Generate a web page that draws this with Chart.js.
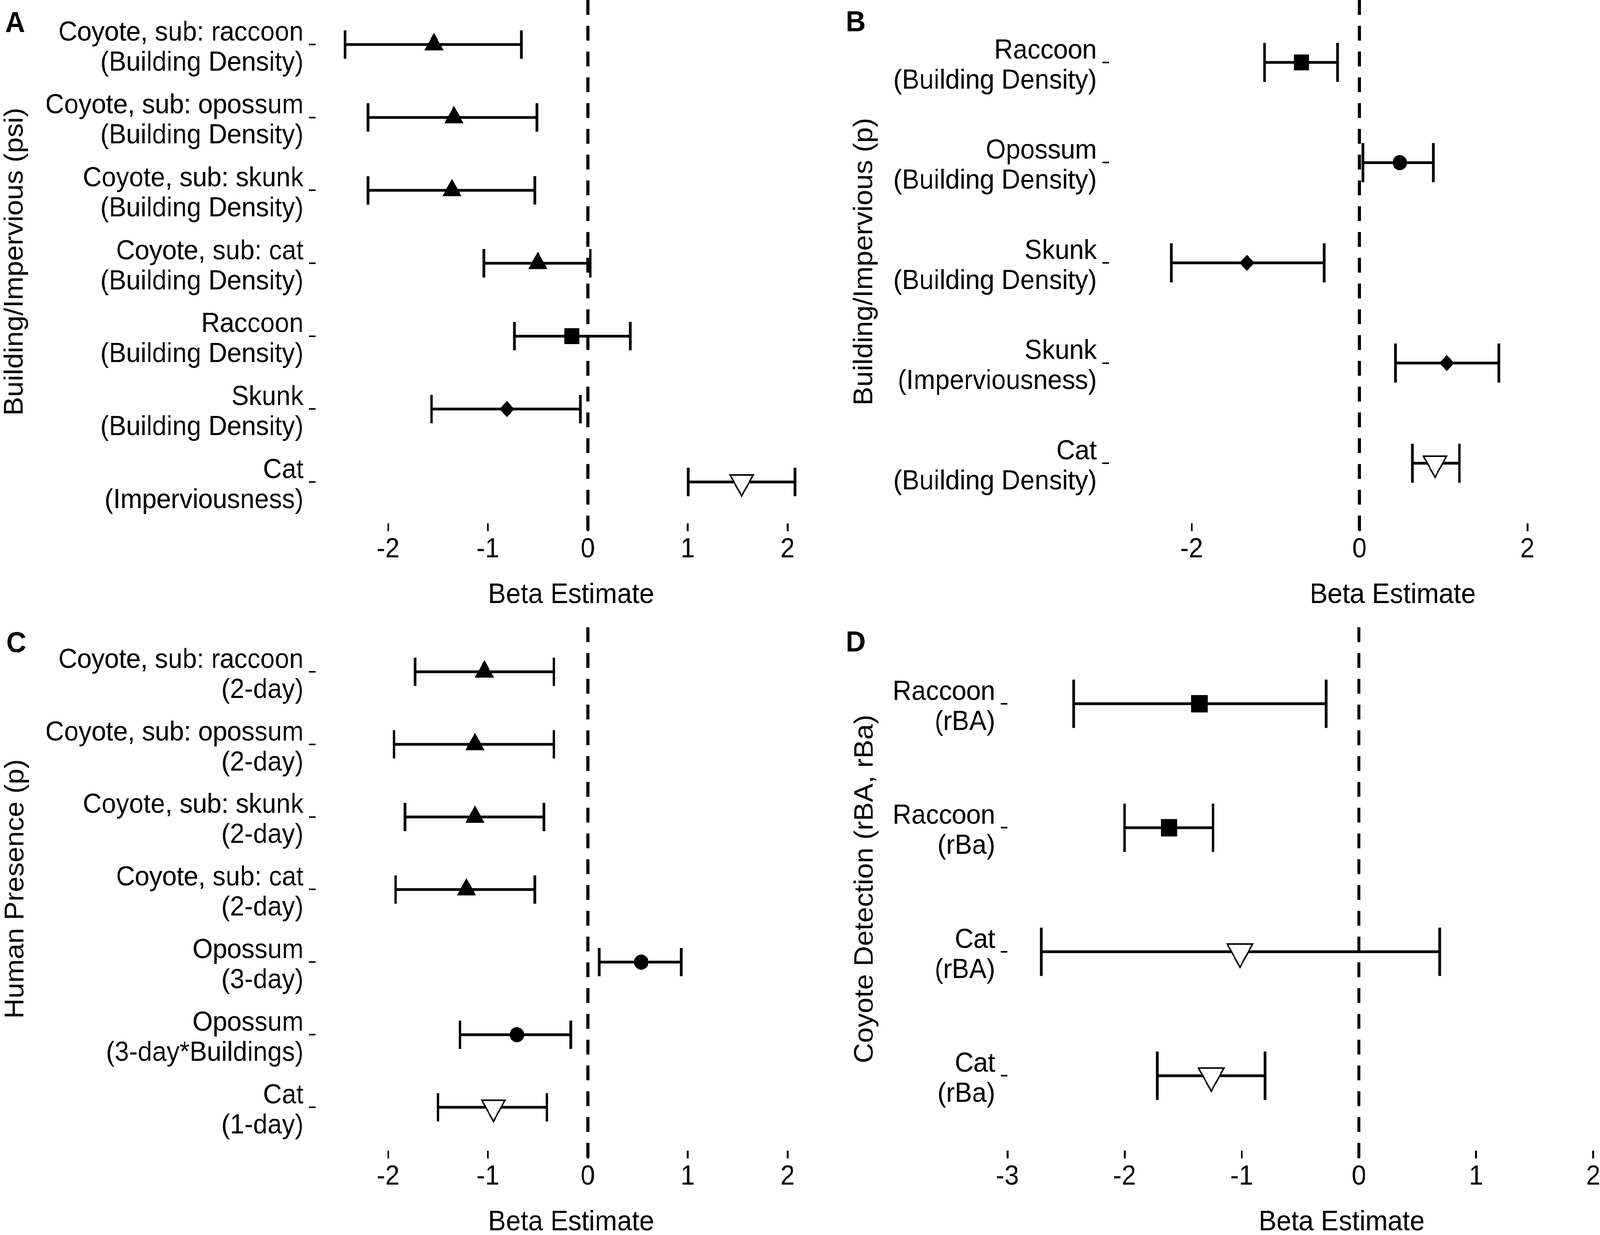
<!DOCTYPE html>
<html>
<head>
<meta charset="utf-8">
<script src="https://cdn.jsdelivr.net/npm/chart.js@4.4.1/dist/chart.umd.min.js"></script>
<style>
html,body{margin:0;padding:0;background:#fff;overflow:hidden;width:100vw;height:100vh;}
#wrap{position:absolute;left:0;top:0;width:4317px;height:3162px;overflow:hidden;background:#fff;transform-origin:0 0;}
canvas{position:absolute;display:block;}
</style>
</head>
<body>
<div id="wrap">
<canvas id="cA"></canvas>
<canvas id="cB"></canvas>
<canvas id="cC"></canvas>
<canvas id="cD"></canvas>
</div>
<script>
const FONT = "'Liberation Sans', Arial, Helvetica, sans-serif";

// ---------- Panel A : Building/Impervious (psi) ----------
const labelsA = [
  ["Coyote, sub: raccoon", "(Building Density)"],
  ["Coyote, sub: opossum", "(Building Density)"],
  ["Coyote, sub: skunk", "(Building Density)"],
  ["Coyote, sub: cat", "(Building Density)"],
  ["Raccoon", "(Building Density)"],
  ["Skunk", "(Building Density)"],
  ["Cat", "(Imperviousness)"]
];
const speciesA = ["coyote", "coyote", "coyote", "coyote", "raccoon", "skunk", "cat"];
const estA  = [-1.54, -1.34, -1.36, -0.50, -0.16, -0.81, 1.54];
const lowA  = [-2.43, -2.20, -2.20, -1.04, -0.735, -1.565, 1.005];
const highA = [-0.665, -0.51, -0.53, 0.025, 0.425, -0.075, 2.075];
const xTicksA = [-2, -1, 0, 1, 2];

// ---------- Panel B : Building/Impervious (p) ----------
const labelsB = [
  ["Raccoon", "(Building Density)"],
  ["Opossum", "(Building Density)"],
  ["Skunk", "(Building Density)"],
  ["Skunk", "(Imperviousness)"],
  ["Cat", "(Building Density)"]
];
const speciesB = ["raccoon", "opossum", "skunk", "skunk", "cat"];
const estB  = [-0.69, 0.48, -1.34, 1.04, 0.90];
const lowB  = [-1.13, 0.04, -2.24, 0.43, 0.63];
const highB = [-0.26, 0.88, -0.42, 1.66, 1.19];
const xTicksB = [-2, 0, 2];

// ---------- Panel C : Human Presence (p) ----------
const labelsC = [
  ["Coyote, sub: raccoon", "(2-day)"],
  ["Coyote, sub: opossum", "(2-day)"],
  ["Coyote, sub: skunk", "(2-day)"],
  ["Coyote, sub: cat", "(2-day)"],
  ["Opossum", "(3-day)"],
  ["Opossum", "(3-day*Buildings)"],
  ["Cat", "(1-day)"]
];
const speciesC = ["coyote", "coyote", "coyote", "coyote", "opossum", "opossum", "cat"];
const estC  = [-1.035, -1.13, -1.13, -1.215, 0.535, -0.71, -0.945];
const lowC  = [-1.73, -1.94, -1.83, -1.925, 0.115, -1.28, -1.50];
const highC = [-0.34, -0.34, -0.44, -0.53, 0.935, -0.17, -0.41];
const xTicksC = [-2, -1, 0, 1, 2];

// ---------- Panel D : Coyote Detection (rBA, rBa) ----------
const labelsD = [
  ["Raccoon", "(rBA)"],
  ["Raccoon", "(rBa)"],
  ["Cat", "(rBA)"],
  ["Cat", "(rBa)"]
];
const speciesD = ["raccoon", "raccoon", "cat", "cat"];
const estD  = [-1.36, -1.62, -1.015, -1.26];
const lowD  = [-2.435, -2.0, -2.71, -1.72];
const highD = [-0.28, -1.245, 0.69, -0.80];
const xTicksD = [-3, -2, -1, 0, 1, 2];

// marker style per species
const MARK = {
  coyote:  {style: "triangle", r: 29,   rot: 0,   fill: "#000", bw: 1},
  raccoon: {style: "rect",     r: 28,   rot: 0,   fill: "#000", bw: 1},
  skunk:   {style: "rectRot",  r: 20,   rot: 0,   fill: "#000", bw: 1},
  opossum: {style: "circle",   r: 19,   rot: 0,   fill: "#000", bw: 1},
  cat:     {style: "triangle", r: 36,   rot: 180, fill: "#fff", bw: 4}
};

// fit the 4317x3162 layout into the actual viewport
const wrap = document.getElementById("wrap");
const sx = (window.innerWidth || 4317) / 4317;
const sy = (window.innerHeight || 3162) / 3162;
wrap.style.transform = "scale(" + sx + "," + sy + ")";

const zeroLine = {
  id: "zeroLine",
  beforeDatasetsDraw(chart) {
    const {ctx, chartArea: a, scales: {x}} = chart;
    const px = x.getPixelForValue(0);
    ctx.save();
    ctx.strokeStyle = "#000";
    ctx.lineWidth = 8;
    ctx.setLineDash([38, 28]);
    ctx.beginPath();
    ctx.moveTo(px, a.top);
    ctx.lineTo(px, a.bottom + 20);
    ctx.stroke();
    ctx.restore();
  }
};

const forestBars = {
  id: "forestBars",
  beforeDatasetsDraw(chart, args, opts) {
    const {ctx, scales: {x, y}} = chart;
    ctx.save();
    ctx.strokeStyle = "#000";
    ctx.lineWidth = 7;
    ctx.lineCap = "butt";
    ctx.setLineDash([]);
    for (let i = 0; i < opts.low.length; i++) {
      const row = i + 1;
      const py = y.getPixelForValue(row);
      const t = y.getPixelForValue(row - opts.cap);
      const b = y.getPixelForValue(row + opts.cap);
      const x1 = x.getPixelForValue(opts.low[i]);
      const x2 = x.getPixelForValue(opts.high[i]);
      ctx.beginPath();
      ctx.moveTo(x1, py); ctx.lineTo(x2, py);
      ctx.moveTo(x1, t); ctx.lineTo(x1, b);
      ctx.moveTo(x2, t); ctx.lineTo(x2, b);
      ctx.stroke();
    }
    ctx.restore();
  }
};

const panelLetter = {
  id: "panelLetter",
  afterDraw(chart, args, opts) {
    const ctx = chart.ctx;
    ctx.save();
    ctx.fillStyle = "#000";
    ctx.font = "bold 74px " + FONT;
    ctx.textBaseline = "alphabetic";
    ctx.textAlign = "left";
    ctx.fillText(opts.text, opts.x, opts.y);
    ctx.restore();
  }
};

function makePanel(p) {
  const cv = document.getElementById(p.id);
  cv.width = p.width; cv.height = p.height;
  cv.style.width = p.width + "px"; cv.style.height = p.height + "px";
  cv.style.left = p.left + "px"; cv.style.top = p.top + "px";
  const sc = p.markScale || 1;
  const sp = p.species;
  return new Chart(cv, {
    type: "scatter",
    data: {
      datasets: [{
        data: p.est.map((v, i) => ({x: v, y: i + 1})),
        pointStyle: sp.map(s => MARK[s].style),
        pointRadius: sp.map(s => MARK[s].r * sc),
        pointHoverRadius: sp.map(s => MARK[s].r * sc),
        pointRotation: sp.map(s => MARK[s].rot),
        pointBackgroundColor: sp.map(s => MARK[s].fill),
        pointBorderColor: "#000",
        pointBorderWidth: sp.map(s => MARK[s].bw),
        clip: false
      }]
    },
    options: {
      responsive: false,
      animation: false,
      devicePixelRatio: 1,
      events: [],
      layout: {autoPadding: false, padding: {top: p.padTop, left: 0, right: 0, bottom: 0}},
      plugins: {
        legend: {display: false},
        tooltip: {enabled: false},
        forestBars: {low: p.low, high: p.high, cap: 0.195},
        panelLetter: {text: p.letter, x: p.letterX, y: p.letterY}
      },
      scales: {
        x: {
          type: "linear", position: "bottom", min: p.xMin, max: p.xMax,
          afterBuildTicks: s => { s.ticks = p.xTicks.map(v => ({value: v})); },
          afterFit: s => { s.height = 227; s.paddingLeft = 0; s.paddingRight = 0; },
          border: {display: false},
          grid: {display: true, drawOnChartArea: false, drawTicks: true, tickLength: 20, lineWidth: 5, color: "#000"},
          ticks: {color: "#000", font: {family: FONT, size: 70}, padding: 6, autoSkip: false, maxRotation: 0,
                  callback: v => String(v)},
          title: {display: true, text: "Beta Estimate", color: "#000",
                  font: {family: FONT, size: 72, lineHeight: 1.2}, padding: {top: 0, bottom: 0}}
        },
        y: {
          type: "linear", position: "left", min: p.yMin, max: p.yMax, reverse: true,
          afterBuildTicks: s => { s.ticks = p.labels.map((_, i) => ({value: i + 1})); },
          afterFit: s => { s.width = p.yWidth; s.paddingTop = 0; s.paddingBottom = 0; },
          border: {display: false},
          grid: {display: true, drawOnChartArea: false, drawTicks: true, tickLength: 18, lineWidth: 4, color: "#000"},
          ticks: {color: "#000", font: {family: FONT, size: 70, lineHeight: 1.1}, padding: 15, labelOffset: 9,
                  autoSkip: false, callback: v => p.labels[Math.round(v) - 1]},
          title: {display: true, text: p.yTitle, color: "#000",
                  font: {family: FONT, size: 72, lineHeight: 1}, padding: {top: p.yTitlePad, bottom: 0}}
        }
      }
    },
    plugins: [zeroLine, forestBars, panelLetter]
  });
}

makePanel({id: "cA", left: 0, top: 0, width: 2230, height: 1567, padTop: 0, yWidth: 852,
  xMin: -2.7236, xMax: 2.3896, yMin: 0.389, yMax: 7.568,
  labels: labelsA, species: speciesA, est: estA, low: lowA, high: highA, xTicks: xTicksA,
  yTitle: "Building/Impervious (psi)", yTitlePad: 5, letter: "A", letterX: 14, letterY: 82});

makePanel({id: "cB", left: 2262, top: 0, width: 2262, height: 1567, padTop: 0, yWidth: 730,
  xMin: -2.9846, xMax: 3.779, yMin: 0.377, yMax: 5.6,
  labels: labelsB, species: speciesB, est: estB, low: lowB, high: highB, xTicks: xTicksB,
  yTitle: "Building/Impervious (p)", yTitlePad: 35, letter: "B", letterX: 20, letterY: 80});

makePanel({id: "cC", left: 0, top: 1590, width: 2230, height: 1583, padTop: 16, yWidth: 852,
  xMin: -2.7236, xMax: 2.3896, yMin: 0.387, yMax: 7.597,
  labels: labelsC, species: speciesC, est: estC, low: lowC, high: highC, xTicks: xTicksC,
  yTitle: "Human Presence (p)", yTitlePad: 7, letter: "C", letterX: 17, letterY: 80});

makePanel({id: "cD", left: 2262, top: 1590, width: 2260, height: 1583, padTop: 16, yWidth: 456,
  xMin: -3.0, xMax: 2.706, yMin: 0.383, yMax: 4.604, markScale: 1.1,
  labels: labelsD, species: speciesD, est: estD, low: lowD, high: highD, xTicks: xTicksD,
  yTitle: "Coyote Detection (rBA, rBa)", yTitlePad: 37, letter: "D", letterX: 20, letterY: 78});
</script>
</body>
</html>
